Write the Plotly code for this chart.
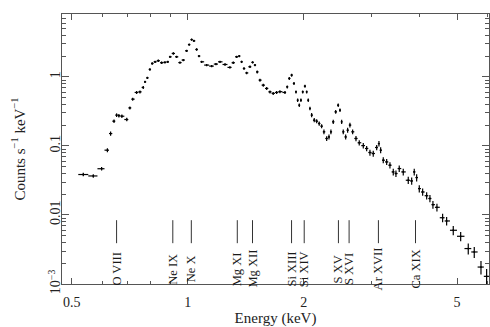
import numpy as np
import plotly.graph_objects as go

# Spectrum (energy in keV, counts s^-1 keV^-1)
energy = [0.536, 0.569, 0.598, 0.619, 0.631, 0.644, 0.654, 0.663, 0.675, 0.695,
          0.708, 0.720, 0.737, 0.752, 0.767, 0.775, 0.786, 0.798, 0.809, 0.823,
          0.839, 0.856, 0.873, 0.888, 0.900, 0.918, 0.936, 0.955, 0.974, 0.994,
          1.009, 1.024, 1.038, 1.055, 1.070, 1.087, 1.120, 1.154, 1.184, 1.213,
          1.250, 1.287, 1.313, 1.340, 1.361, 1.380, 1.400, 1.422, 1.451, 1.474,
          1.495, 1.515, 1.540, 1.571, 1.603, 1.635, 1.667, 1.701, 1.735, 1.788,
          1.813, 1.835, 1.861, 1.887, 1.910, 1.929, 1.948, 1.967, 1.988, 2.015,
          2.036, 2.055, 2.076, 2.097, 2.130, 2.161, 2.194, 2.226, 2.257, 2.294,
          2.326, 2.353, 2.386, 2.421, 2.458, 2.484, 2.509, 2.533, 2.570, 2.600,
          2.636, 2.679, 2.733, 2.787, 2.855, 2.913, 2.971, 3.030, 3.093, 3.135,
          3.167, 3.217, 3.283, 3.348, 3.415, 3.470, 3.539, 3.625, 3.735, 3.812,
          3.871, 3.927, 3.989, 4.070, 4.169, 4.251, 4.328, 4.433, 4.586, 4.697,
          4.887, 5.108, 5.345, 5.540, 5.767, 5.965]
counts = [0.0385, 0.0367, 0.0467, 0.0867, 0.151, 0.228, 0.279, 0.274, 0.269, 0.241,
          0.355, 0.475, 0.594, 0.606, 0.702, 0.846, 0.967, 1.28, 1.56, 1.65,
          1.71, 1.60, 1.62, 1.65, 1.95, 2.18, 1.95, 1.61, 1.75, 2.38,
          2.93, 3.46, 3.32, 2.49, 2.00, 1.65, 1.48, 1.43, 1.53, 1.65,
          1.51, 1.37, 1.60, 1.95, 2.00, 1.65, 1.32, 1.14, 1.40, 1.62,
          1.48, 1.18, 0.896, 0.758, 0.679, 0.606, 0.575, 0.594, 0.610, 0.594,
          0.716, 0.948, 1.06, 0.802, 0.606, 0.460, 0.389, 0.460, 0.606, 0.733,
          0.606, 0.460, 0.348, 0.279, 0.236, 0.228, 0.211, 0.193, 0.160, 0.128,
          0.135, 0.160, 0.223, 0.311, 0.389, 0.329, 0.223, 0.160, 0.135, 0.169,
          0.200, 0.160, 0.128, 0.111, 0.101, 0.0917, 0.0802, 0.0776, 0.0948, 0.108,
          0.0867, 0.0621, 0.0586, 0.0525, 0.0420, 0.0398, 0.0470, 0.0420, 0.0318, 0.0311,
          0.0420, 0.0348, 0.0241, 0.0215, 0.0190, 0.0173, 0.0141, 0.0129, 0.00911, 0.00818,
          0.0060, 0.00491, 0.00326, 0.00291, 0.00176, 0.00129]
# relative 1-sigma errors on the counts
rel_err = [0.06, 0.06, 0.06, 0.07, 0.07, 0.06, 0.06, 0.06, 0.06, 0.06,
           0.05, 0.05, 0.05, 0.05, 0.05, 0.04, 0.04, 0.04, 0.04, 0.04,
           0.04, 0.04, 0.04, 0.04, 0.04, 0.04, 0.04, 0.04, 0.04, 0.04,
           0.04, 0.04, 0.04, 0.04, 0.04, 0.04, 0.04, 0.04, 0.04, 0.04,
           0.04, 0.04, 0.04, 0.04, 0.04, 0.04, 0.04, 0.04, 0.04, 0.04,
           0.04, 0.05, 0.05, 0.05, 0.05, 0.05, 0.05, 0.05, 0.05, 0.05,
           0.05, 0.05, 0.05, 0.05, 0.05, 0.06, 0.06, 0.06, 0.05, 0.05,
           0.05, 0.06, 0.06, 0.07, 0.07, 0.07, 0.07, 0.07, 0.08, 0.08,
           0.08, 0.08, 0.07, 0.06, 0.06, 0.06, 0.07, 0.08, 0.08, 0.08,
           0.08, 0.08, 0.09, 0.09, 0.09, 0.09, 0.10, 0.10, 0.09, 0.09,
           0.10, 0.10, 0.10, 0.10, 0.11, 0.11, 0.11, 0.11, 0.12, 0.12,
           0.11, 0.12, 0.12, 0.12, 0.12, 0.12, 0.13, 0.13, 0.14, 0.14,
           0.15, 0.15, 0.18, 0.18, 0.22, 0.28]

# Emission line identifications
line_energy = [0.654, 0.915, 1.022, 1.345, 1.473, 1.860, 2.006, 2.461, 2.623, 3.125, 3.90]
line_label = ["O VIII", "Ne IX", "Ne X", "Mg XI", "Mg XII", "Si XIII", "Si XIV",
              "S XV", "S XVI", "Ar XVII", "Ca XIX"]

x_ticks = [0.5, 1, 2, 5]
x_minor = [0.6, 0.7, 0.8, 0.9, 3, 4, 6]
y_ticks = [1e-3, 1e-2, 0.1, 1]
y_ticktext = ["10<sup>\u22123</sup>", "0.01", "0.1", "1"]

E = np.array(energy)
C = np.array(counts)
# bin half-widths: contiguous bins, edges halfway (in log) between channels
lo = np.empty_like(E)
hi = np.empty_like(E)
mid = np.sqrt(E[:-1] * E[1:])
hi[:-1] = mid
lo[1:] = mid
lo[0] = E[0] ** 2 / mid[0]
hi[-1] = E[-1] ** 2 / mid[-1]
ey = C * np.array(rel_err)

FONT = "Liberation Serif, Times New Roman, serif"

fig = go.Figure()
fig.add_trace(go.Scatter(
    x=E, y=C, mode="markers",
    marker=dict(size=1.8, color="black"),
    error_x=dict(type="data", symmetric=False, array=hi - E, arrayminus=E - lo,
                 color="black", thickness=1.2, width=0),
    error_y=dict(type="data", array=ey, color="black", thickness=1.2, width=0),
    showlegend=False, hoverinfo="skip"))

# line markers
lx, ly = [], []
for e in line_energy:
    lx += [e, e, None]
    ly += [0.0039, 0.0084, None]
fig.add_trace(go.Scatter(x=lx, y=ly, mode="lines",
                         line=dict(color="#333333", width=1),
                         showlegend=False, hoverinfo="skip"))

for e, t in zip(line_energy, line_label):
    fig.add_annotation(x=np.log10(e), y=np.log10(0.00165), xref="x", yref="y",
                       text=t, textangle=-90, showarrow=False,
                       font=dict(family=FONT, size=12.5, color="#1a1a1a"),
                       xanchor="center", yanchor="middle")

axis_common = dict(showline=True, linecolor="#555", linewidth=1, mirror="ticks",
                   ticks="inside", tickcolor="#555", showgrid=False, zeroline=False,
                   automargin=False,
                   tickfont=dict(family=FONT, size=14, color="#222"))

fig.update_xaxes(type="log", range=[np.log10(0.472), np.log10(6.05)],
                 tickvals=x_ticks, ticktext=[str(v) for v in x_ticks],
                 ticklen=6, tickwidth=1, ticklabelstandoff=5,
                 minor=dict(tickvals=x_minor, ticks="inside", ticklen=3,
                            tickcolor="#555"),
                 title=dict(text="Energy (keV)", font=dict(family=FONT, size=15, color="#222"),
                            standoff=4),
                 **axis_common)
fig.update_yaxes(type="log", range=[-3.0, 0.91],
                 tickvals=y_ticks, ticktext=y_ticktext, tickangle=-90,
                 ticklen=7, tickwidth=1, ticklabelstandoff=-5,
                 minor=dict(dtick="D1", ticks="inside", ticklen=4, tickcolor="#555"),
                 title=dict(text="Counts s<sup>\u22121</sup> keV<sup>\u22121</sup>",
                            font=dict(family=FONT, size=15, color="#222"), standoff=16),
                 **axis_common)

fig.update_layout(width=490, height=327, margin=dict(l=62, r=1, t=14, b=43),
                  plot_bgcolor="white", paper_bgcolor="white",
                  font=dict(family=FONT, color="#222"))

fig.write_html("out.html", config={"displayModeBar": False},
               post_script="document.body.style.margin='0';document.body.style.overflow='hidden';")
